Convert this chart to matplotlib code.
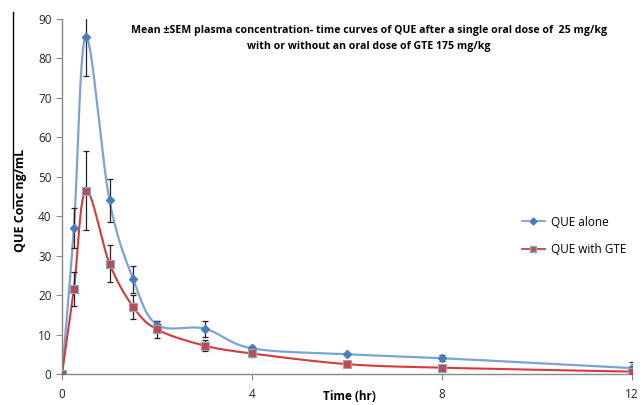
import numpy as np
import matplotlib
matplotlib.use('Agg')
import matplotlib.pyplot as plt
from matplotlib.lines import Line2D

# sampling times (hr)
time_hr = [0, 0.25, 0.5, 1, 1.5, 2, 3, 4, 6, 8, 12]

# QUE alone, mean and SEM (ng/mL)
que_alone = [0, 37, 85.5, 44, 24, 12.5, 11.5, 6.5, 5.0, 4.0, 1.5]
que_alone_sem = [0, 5, 10, 5.5, 3.5, 1.0, 2.0, 0.6, 0.3, 0.8, 1.5]

# QUE with GTE, mean and SEM (ng/mL)
que_gte = [0, 21.5, 46.5, 28, 17, 11.3, 7.2, 5.2, 2.5, 1.6, 0.6]
que_gte_sem = [0, 4.3, 10, 4.7, 3.0, 2.2, 1.3, 0.8, 0.3, 0.3, 0.5]

x_ticks = [0, 4, 8, 12]
y_ticks = list(range(0, 91, 10))

title = ('Mean \u00b1SEM plasma concentration- time curves of QUE after a single oral dose of  25 mg/kg\n'
         'with or without an oral dose of GTE 175 mg/kg')


def smooth(x, y, n=30):
    # Excel-like smoothed line (Catmull-Rom through the points)
    x = np.asarray(x, float)
    y = np.asarray(y, float)
    px = np.concatenate([[x[0]], x, [x[-1]]])
    py = np.concatenate([[y[0]], y, [y[-1]]])
    xs, ys = [], []
    t = np.linspace(0, 1, n)
    for i in range(1, len(px) - 2):
        p0, p1, p2, p3 = [np.array([px[j], py[j]]) for j in (i - 1, i, i + 1, i + 2)]
        c1 = p1 + (p2 - p0) / 6.0
        c2 = p2 - (p3 - p1) / 6.0
        b = ((1 - t) ** 3)[:, None] * p1 + (3 * (1 - t) ** 2 * t)[:, None] * c1 \
            + (3 * (1 - t) * t ** 2)[:, None] * c2 + (t ** 3)[:, None] * p2
        xs.append(b[:, 0])
        ys.append(b[:, 1])
    return np.concatenate(xs), np.concatenate(ys)


plt.rcParams['font.family'] = ['Open Sans', 'DejaVu Sans']

fig = plt.figure(figsize=(6.41, 4.05), dpi=100)
ax = fig.add_axes([62 / 641, 1 - 374 / 405, (632 - 62) / 641, (374 - 19) / 405])

blue_line, blue_mk = '#7BA3D4', '#4A7EBB'
red_line, red_mk = '#D63A3E', '#BE4B52'

sx, sy = smooth(time_hr, que_alone)
ax.plot(sx, sy, color=blue_line, lw=1.6, zorder=2)
ax.errorbar(time_hr, que_alone, yerr=que_alone_sem, fmt='none', ecolor='#222222',
            elinewidth=0.9, capsize=2.5, capthick=0.9, zorder=3)
ax.plot(time_hr, que_alone, 'D', color=blue_mk, ms=4.5, zorder=4)

sx, sy = smooth(time_hr, que_gte)
ax.plot(sx, sy, color=red_line, lw=1.5, zorder=2)
ax.errorbar(time_hr, que_gte, yerr=que_gte_sem, fmt='none', ecolor='#222222',
            elinewidth=0.9, capsize=2.5, capthick=0.9, zorder=3)
ax.plot(time_hr, que_gte, 's', color=red_mk, mec='#8FA8B8', mew=0.8, ms=5.5, zorder=4)

ax.set_xlim(0, 12)
ax.set_ylim(0, 90)
ax.set_xticks(x_ticks)
ax.set_yticks(y_ticks)
ax.spines['top'].set_visible(False)
ax.spines['right'].set_visible(False)
for s in ('left', 'bottom'):
    ax.spines[s].set_color('#888888')
    ax.spines[s].set_linewidth(1.0)
ax.tick_params(axis='both', colors='#888888', length=4, labelsize=8.5, labelcolor='#222222')
ax.tick_params(axis='x', pad=6)

fig.text(349 / 641, 1 - 397 / 405, 'Time (hr)', ha='center', va='center',
         fontweight='bold', fontsize=8.5)
fig.text(21 / 641, 1 - 200 / 405, 'QUE Conc ng/mL', ha='center', va='center',
         rotation=90, fontweight='bold', fontsize=9)

fig.text(369 / 641, 1 - 38.5 / 405, title, ha='center', va='center', fontsize=7.6,
         fontweight='bold', linespacing=1.75)

handles = [Line2D([], [], color=blue_line, marker='D', mfc=blue_mk, mec=blue_mk, ms=3.5, lw=1.3),
           Line2D([], [], color=red_line, marker='s', mfc=red_mk, mec='#8FA8B8', ms=4.5, lw=1.3)]
fig.legend(handles, ['QUE alone', 'QUE with GTE'], loc='upper left',
           bbox_to_anchor=(511 / 641, 1 - 205 / 405), frameon=False, fontsize=8.5,
           handlelength=2.0, handletextpad=0.5, labelspacing=1.2)

fig.add_artist(Line2D([13 / 641, 13 / 641], [1 - 12 / 405, 1 - 208 / 405], color='black', lw=1.0))

fig.savefig('out.png', dpi=100)
